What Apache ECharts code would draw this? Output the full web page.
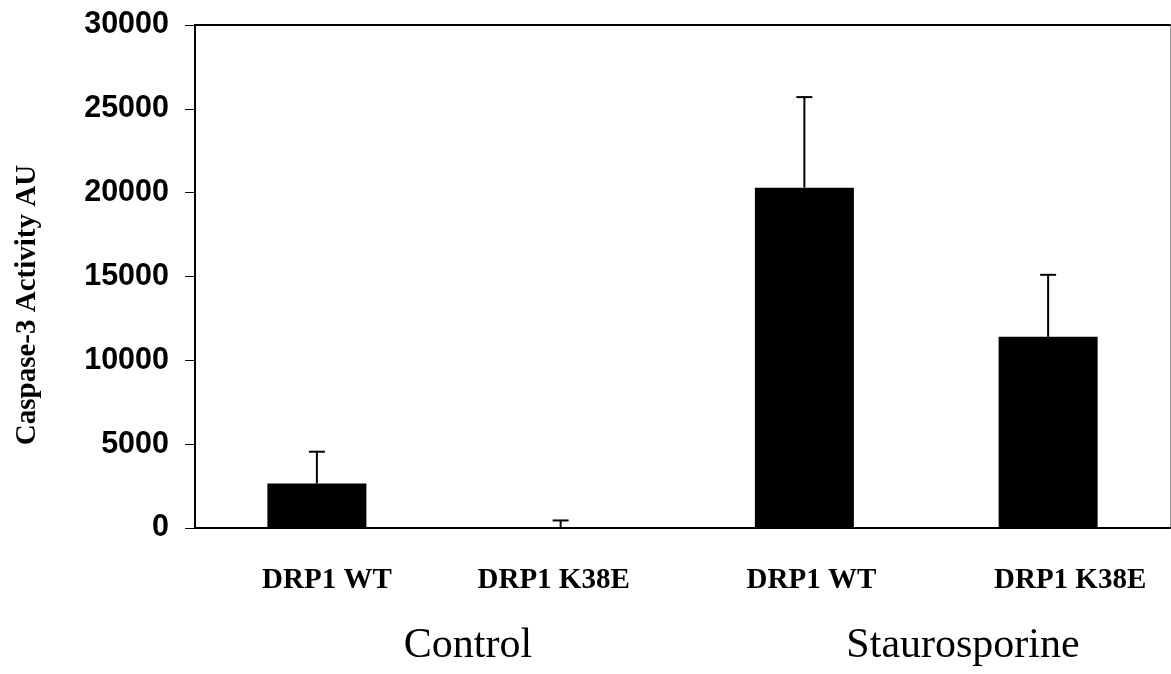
<!DOCTYPE html>
<html>
<head>
<meta charset="utf-8">
<script src="https://cdn.jsdelivr.net/npm/echarts@6/dist/echarts.min.js"></script>
<style>
  html, body { margin: 0; padding: 0; background: #fff; }
  #chart { width: 1171px; height: 674px; }
</style>
</head>
<body>
<div id="chart"></div>
<script>
// Caspase-3 activity per construct and treatment
const categories = ['DRP1 WT', 'DRP1 K38E', 'DRP1 WT', 'DRP1 K38E'];
const groups = ['Control', 'Staurosporine'];
const activity = [2650, 40, 20300, 11400];
const errorUpper = [1900, 410, 5400, 3700];
const yTicks = [0, 5000, 10000, 15000, 20000, 25000, 30000];

// small horizontal nudges for the category labels (px)
const labelShift = [10, -7, 7, 22];

const chart = echarts.init(document.getElementById('chart'));

const richStyles = {};
labelShift.forEach((s, i) => {
  richStyles['c' + i] = {
    fontFamily: 'Liberation Serif',
    fontWeight: 'bold',
    fontSize: 29,
    color: '#000',
    padding: s >= 0 ? [0, 0, 0, 2 * s] : [0, -2 * s, 0, 0]
  };
});

const option = {
  animation: false,
  backgroundColor: '#fff',
  grid: { left: 195, right: 1, top: 25, bottom: 146 },
  xAxis: [
    {
      type: 'category',
      data: categories,
      axisLine: { show: true, lineStyle: { color: '#000', width: 2 } },
      axisTick: { show: false },
      axisLabel: {
        margin: 38,
        formatter: (v, i) => '{c' + i + '|' + v + '}',
        rich: richStyles
      }
    },
    {
      type: 'category',
      position: 'top',
      data: categories,
      axisLine: { show: true, onZero: false, lineStyle: { color: '#000', width: 2 } },
      axisTick: { show: false },
      axisLabel: { show: false }
    }
  ],
  yAxis: [
    {
      type: 'value',
      min: yTicks[0],
      max: yTicks[yTicks.length - 1],
      interval: yTicks[1] - yTicks[0],
      splitLine: { show: false },
      axisLine: { show: true, lineStyle: { color: '#000', width: 2 } },
      axisTick: { show: true, inside: false, length: 10, lineStyle: { color: '#000', width: 1 } },
      axisLabel: {
        margin: 26,
        formatter: v => String(v),
        fontFamily: 'Liberation Sans',
        fontWeight: 'bold',
        fontSize: 30.5,
        color: '#000'
      }
    },
    {
      type: 'value',
      position: 'right',
      min: yTicks[0],
      max: yTicks[yTicks.length - 1],
      interval: yTicks[1] - yTicks[0],
      splitLine: { show: false },
      axisLine: { show: true, onZero: false, lineStyle: { color: '#999', width: 1 } },
      axisTick: { show: false },
      axisLabel: { show: false }
    }
  ],
  series: [
    {
      type: 'bar',
      data: activity,
      barWidth: 99,
      itemStyle: { color: '#000' },
      z: 2
    },
    {
      // upper error whiskers with caps
      type: 'custom',
      z: 3,
      data: activity.map((v, i) => [i, v, v + errorUpper[i]]),
      renderItem: (params, api) => {
        const base = api.coord([api.value(0), api.value(1)]);
        const top = api.coord([api.value(0), api.value(2)]);
        const half = 8;
        const style = { stroke: '#000', lineWidth: 2 };
        return {
          type: 'group',
          children: [
            { type: 'line', shape: { x1: base[0], y1: base[1], x2: top[0], y2: top[1] }, style },
            { type: 'line', shape: { x1: top[0] - half, y1: top[1], x2: top[0] + half, y2: top[1] }, style }
          ]
        };
      }
    }
  ],
  graphic: [
    {
      type: 'text',
      x: 28, y: 305,
      rotation: Math.PI / 2,
      style: {
        text: 'Caspase-3 Activity AU',
        fontFamily: 'Liberation Serif',
        fontWeight: 'bold',
        fontSize: 29,
        fill: '#000',
        align: 'center',
        verticalAlign: 'middle'
      }
    },
    {
      type: 'text',
      x: 468, y: 646,
      style: {
        text: groups[0],
        fontFamily: 'Liberation Serif',
        fontSize: 42,
        fill: '#000',
        align: 'center',
        verticalAlign: 'middle'
      }
    },
    {
      type: 'text',
      x: 963, y: 646,
      style: {
        text: groups[1],
        fontFamily: 'Liberation Serif',
        fontSize: 42,
        fill: '#000',
        align: 'center',
        verticalAlign: 'middle'
      }
    }
  ]
};

chart.setOption(option);
</script>
</body>
</html>
